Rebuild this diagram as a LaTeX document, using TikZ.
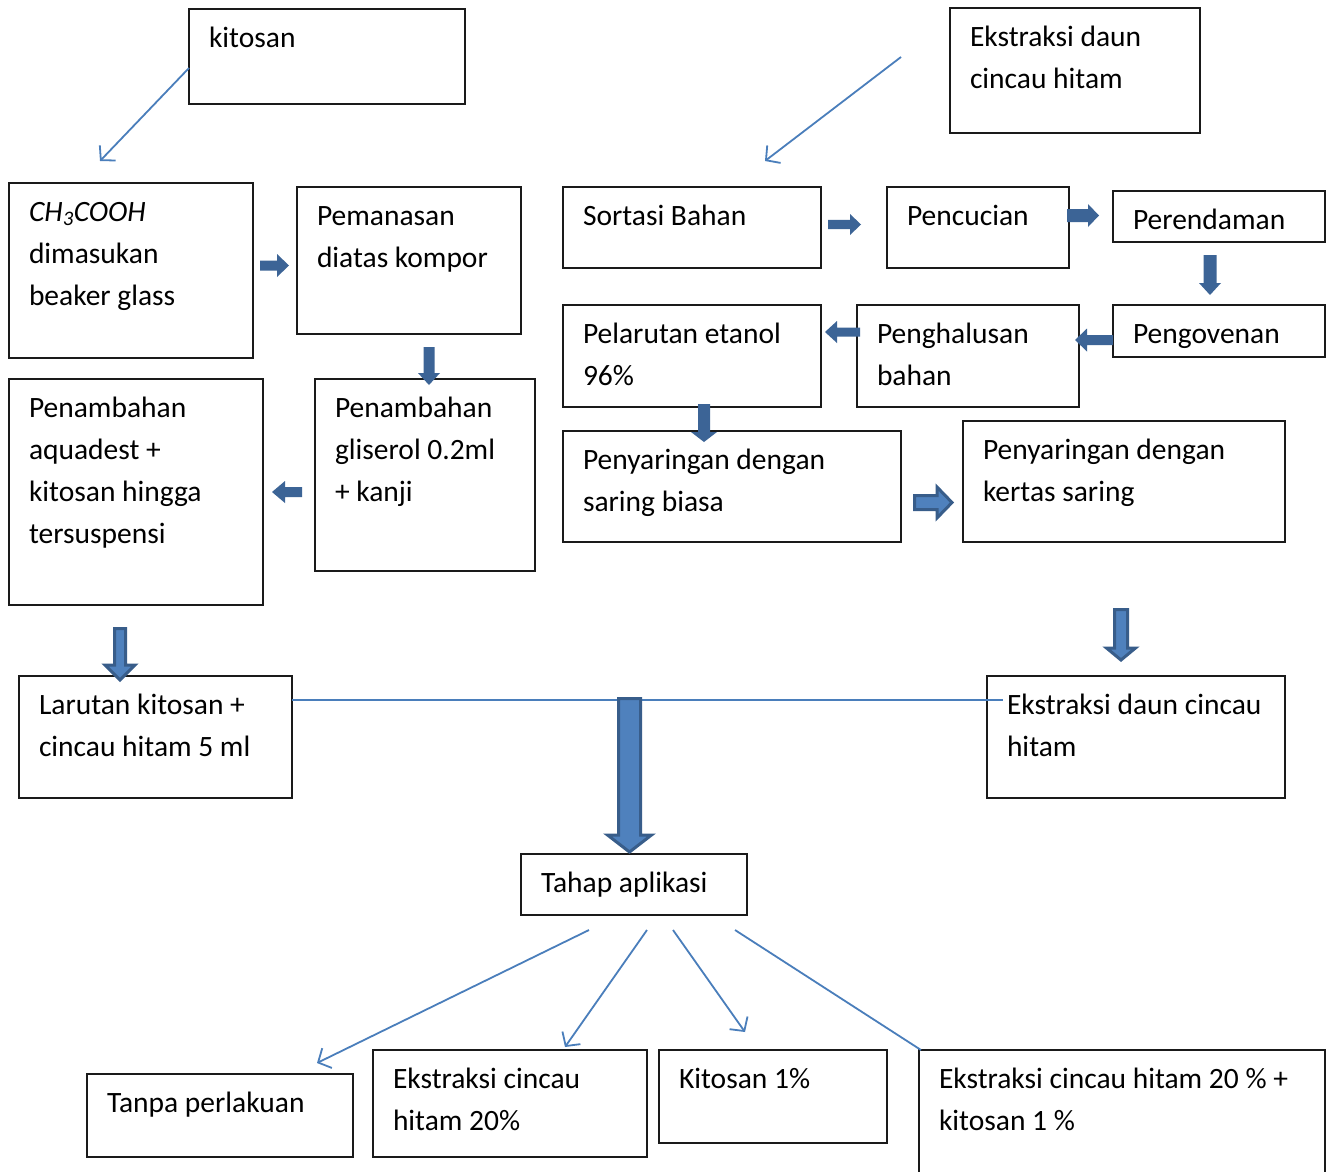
\documentclass[tikz,border=0pt]{standalone}
\usepackage{fontspec}
\setmainfont{Carlito}
\usetikzlibrary{arrows.meta}
\definecolor{bdark}{HTML}{3C6496}
\definecolor{bout}{HTML}{385D8A}
\definecolor{blight}{HTML}{4F81BD}
\definecolor{thinc}{HTML}{4A7EBB}
\definecolor{edgec}{HTML}{1A1A1A}
\tikzset{
  box/.style={draw=edgec, line width=1.2pt, inner sep=0pt, outer sep=0pt},
  txt/.style={inner sep=0pt, outer sep=0pt, align=left, anchor=north west, font=\fontsize{29.5}{42}\selectfont},
  conn/.style={draw=thinc, line width=1.8pt},
  conntip/.style={-{Straight Barb[length=10pt,width=22pt]}},
  solidarrow/.style={fill=bdark, draw=none},
  hollowarrow/.style={fill=blight, draw=bout, line width=3pt, line join=miter},
}
% box: name, x1, y1, x2, y2, text
\newcommand\bx[6]{%
  \node[box, anchor=north west, minimum width={(#4-#2)*1pt}, minimum height={(#5-#3)*1pt}] (#1) at (#2,#3) {};
  \node[txt] (#1t) at (#2+20,#3+8.6) {\strut #6};
}
% down arrow: style, cx, ytop, yneck, ytip, half shaft, half head
\newcommand\darr[7]{%
  \path[#1] (#2-#6,#3) -- (#2+#6,#3) -- (#2+#6,#4) -- (#2+#7,#4) -- (#2,#5) -- (#2-#7,#4) -- (#2-#6,#4) -- cycle;}
% horizontal arrow: style, cy, xstart, xneck, xtip, half shaft, half head
\newcommand\harr[7]{%
  \path[#1] (#3,#2-#6) -- (#4,#2-#6) -- (#4,#2-#7) -- (#5,#2) -- (#4,#2+#7) -- (#4,#2+#6) -- (#3,#2+#6) -- cycle;}
\begin{document}
\begin{tikzpicture}[x=1pt,y=-1pt]
\useasboundingbox (0,0) rectangle (1331,1171);
\fill[white] (0,0) rectangle (1331,1171);

\bx{kit}{189}{9}{465}{104}{kitosan}
\bx{ekst1}{950}{8}{1200}{133}{Ekstraksi daun\\cincau hitam}
\bx{ch}{9}{183}{253}{358}{\textit{CH\textsubscript{3}COOH}\\dimasukan\\beaker glass}
\bx{pem}{297}{187}{521}{334}{Pemanasan\\diatas kompor}
\bx{sort}{563}{187}{821}{268}{Sortasi Bahan}
\bx{penc}{887}{187}{1069}{268}{Pencucian}
\bx{pere}{1113}{191}{1325}{242}{Perendaman}
\bx{peng}{1113}{305}{1325}{357}{Pengovenan}
\bx{pengh}{857}{305}{1079}{407}{Penghalusan\\bahan}
\bx{pel}{563}{305}{821}{407}{Pelarutan etanol\\96\%}
\bx{pnya}{563}{431}{901}{542}{Penyaringan dengan\\saring biasa}
\bx{pnyb}{963}{421}{1285}{542}{Penyaringan dengan\\kertas saring}
\bx{glis}{315}{379}{535}{571}{Penambahan\\gliserol 0.2ml\\+ kanji}
\bx{aqua}{9}{379}{263}{605}{Penambahan\\aquadest +\\kitosan hingga\\tersuspensi}
\bx{lar}{19}{676}{292}{798}{Larutan kitosan +\\cincau hitam 5 ml}
\bx{ekst2}{987}{676}{1285}{798}{Ekstraksi daun cincau\\hitam}
\bx{tahap}{521}{854}{747}{915}{Tahap aplikasi}
\bx{tanpa}{87}{1074}{353}{1157}{Tanpa perlakuan}
\bx{ecc}{373}{1050}{647}{1157}{Ekstraksi cincau\\hitam 20\%}
\bx{kt}{659}{1050}{887}{1143}{Kitosan 1\%}
\bx{ekk}{919}{1050}{1325}{1180}{Ekstraksi cincau hitam 20 \% +\\kitosan 1 \%}

% thin connectors
\coordinate (c1) at (100,161);
\coordinate (c2s) at (901,57);
\coordinate (c2) at (765,161);
\coordinate (hend) at (1003,700);
\coordinate (d1s) at (589,930);
\coordinate (d1) at (317,1063);
\coordinate (d2s) at (647,930);
\coordinate (d2) at (565,1047);
\coordinate (d3s) at (673,930);
\coordinate (d3) at (745,1032);
\coordinate (d4s) at (735,930);
\coordinate (d4) at (921,1050);
\draw[conn, conntip] (kit.west |- 0,68) -- (c1);
\draw[conn, conntip] (c2s) -- (c2);
\draw[conn] (lar.east |- 0,700) -- (hend);
\draw[conn, conntip] (d1s) -- (d1);
\draw[conn, conntip] (d2s) -- (d2);
\draw[conn, conntip] (d3s) -- (d3);
\draw[conn] (d4s) -- (d4);

% block arrows
\harr{solidarrow}{265.5}{260}{277}{289}{5}{11.5}
\darr{solidarrow}{429}{347}{373}{385}{5.5}{11}
\harr{solidarrow}{224.5}{828}{850}{861}{4.7}{10.5}
\harr{solidarrow}{215.5}{1067}{1088}{1099}{6.5}{11.5}
\darr{solidarrow}{1210}{255}{283}{295}{6.5}{11}
\harr{solidarrow}{332}{860}{837}{825}{4.5}{11}
\harr{solidarrow}{340}{1113}{1087}{1075}{5}{11.5}
\darr{solidarrow}{704}{404}{432}{442}{6}{13}
\harr{solidarrow}{492}{302}{285}{272}{5}{11}
\harr{hollowarrow}{502.5}{914.5}{937}{952}{7}{15.5}
\darr{hollowarrow}{1121}{609.5}{648}{660}{6.5}{14.5}
\darr{hollowarrow}{629.5}{698.5}{835}{852}{11}{22}
\darr{hollowarrow}{120}{628.5}{665}{680}{5.5}{15}
\end{tikzpicture}
\end{document}
